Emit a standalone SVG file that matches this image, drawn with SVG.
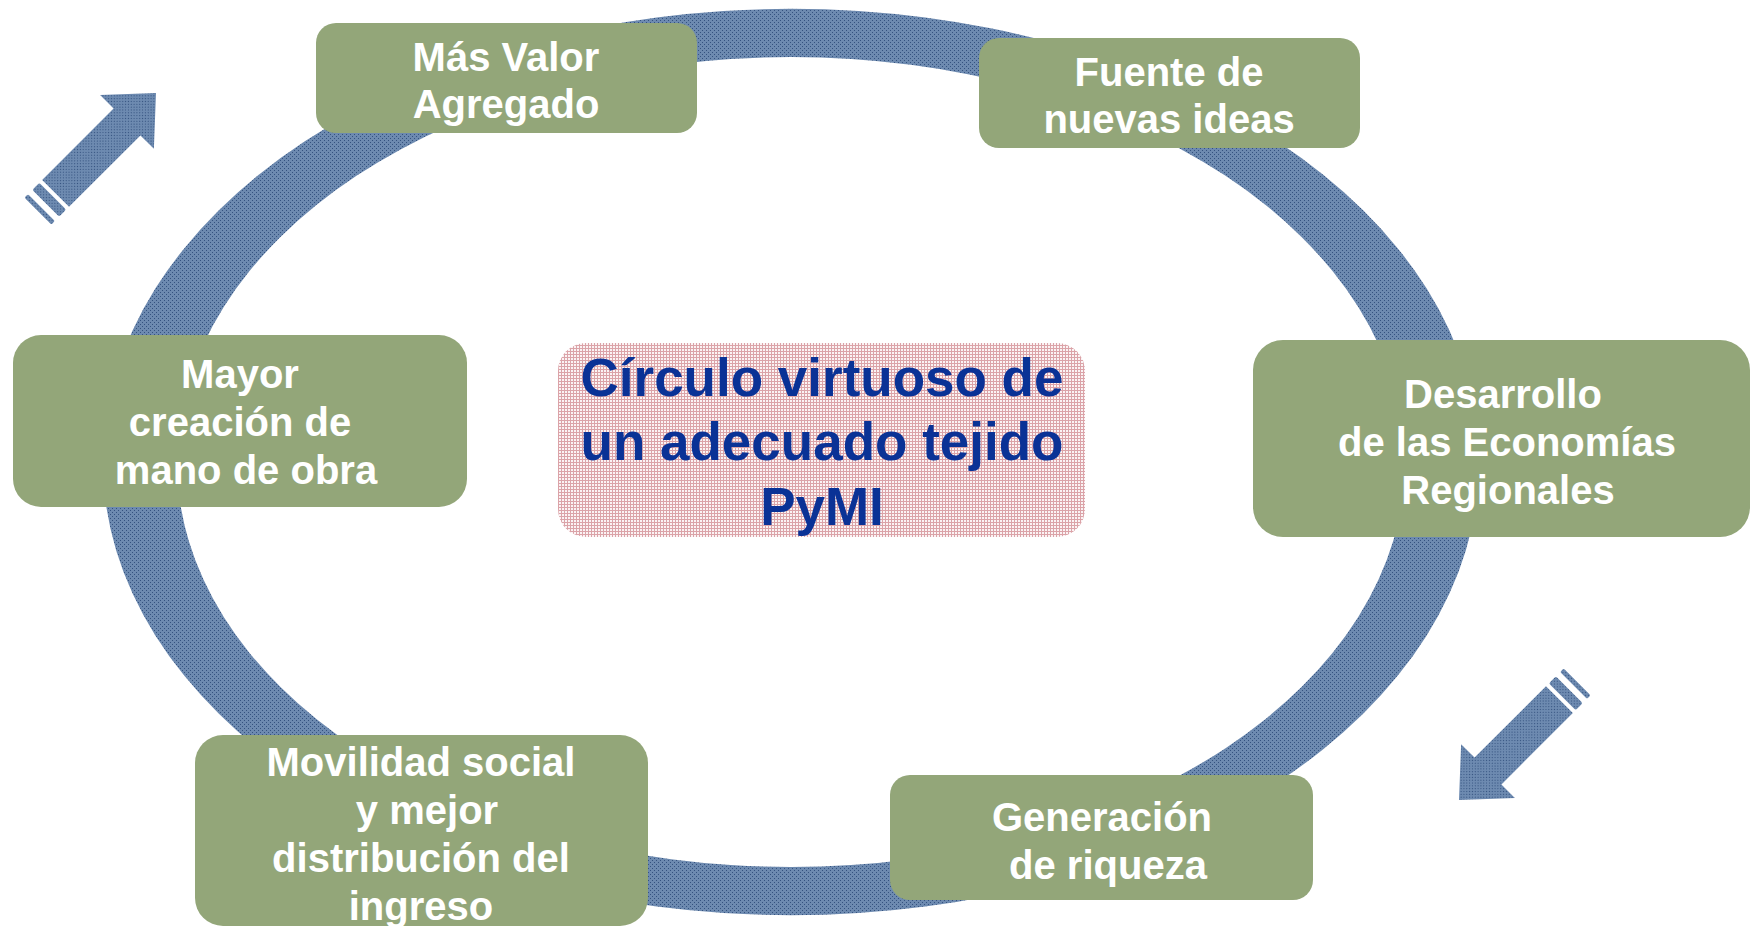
<svg xmlns="http://www.w3.org/2000/svg" width="1751" height="929" viewBox="0 0 1751 929">
<style>
.box{fill:#93a679;}
.lbl{font-family:"Liberation Sans",Arial,sans-serif;font-weight:bold;font-size:40px;fill:#ffffff;text-anchor:middle;}
.ctr{font-family:"Liberation Sans",Arial,sans-serif;font-weight:bold;font-size:53px;fill:#0a3296;text-anchor:middle;}
.blue{fill:url(#blueTex);}
</style>
<defs>
<pattern id="blueTex" width="4" height="4" patternUnits="userSpaceOnUse">
<rect width="4" height="4" fill="#6d8ab0"/>
<rect x="0" y="0" width="1" height="1" fill="#34527f"/>
<rect x="2" y="2" width="1" height="1" fill="#34527f"/>
</pattern>
<pattern id="pinkTex" width="3" height="3" patternUnits="userSpaceOnUse">
<rect width="3" height="3" fill="#fbf3f4"/>
<rect x="0" y="0" width="3" height="1" fill="#dba3a8"/>
<rect x="0" y="0" width="1" height="3" fill="#dba3a8"/>
</pattern>
<g id="arrowShape">
<path d="M0,0 L-41,-38 L-41,-19 L-142,-19 L-142,19 L-41,19 L-41,38 Z"/>
<rect x="-156" y="-19" width="10" height="38" rx="2"/>
<rect x="-167" y="-19" width="5" height="38" rx="1.5"/>
</g>
</defs>
<rect width="1751" height="929" fill="#ffffff"/>
<g id="connectors">
<path class="blue" fill-rule="evenodd" d="M103,462 A688,453 0 1,0 1479,462 A688,453 0 1,0 103,462 Z M177,462 A614,405 0 1,0 1405,462 A614,405 0 1,0 177,462 Z"/>
<use href="#arrowShape" class="blue" transform="translate(156,93) rotate(-45)"/>
<use href="#arrowShape" class="blue" transform="translate(1459,800) rotate(135)"/>
</g>
<g id="node-mas-valor">
<rect class="box" x="316" y="23" width="381" height="110" rx="20"/>
<text class="lbl" x="506" y="71">Más Valor</text>
<text class="lbl" x="506" y="118">Agregado</text>
</g>
<g id="node-fuente">
<rect class="box" x="979" y="38" width="381" height="110" rx="20"/>
<text class="lbl" x="1169" y="86">Fuente de</text>
<text class="lbl" x="1169" y="133">nuevas ideas</text>
</g>
<g id="node-desarrollo">
<rect class="box" x="1253" y="340" width="497" height="197" rx="30"/>
<text class="lbl" x="1503" y="408">Desarrollo</text>
<text class="lbl" x="1507" y="456">de las Economías</text>
<text class="lbl" x="1508" y="504">Regionales</text>
</g>
<g id="node-mayor">
<rect class="box" x="13" y="335" width="454" height="172" rx="28"/>
<text class="lbl" x="240" y="388">Mayor</text>
<text class="lbl" x="240" y="436">creación de</text>
<text class="lbl" x="246" y="484">mano de obra</text>
</g>
<g id="node-movilidad">
<rect class="box" x="195" y="735" width="453" height="191" rx="28"/>
<text class="lbl" x="421" y="776">Movilidad social</text>
<text class="lbl" x="427" y="824">y mejor</text>
<text class="lbl" x="421" y="872">distribución del</text>
<text class="lbl" x="421" y="920">ingreso</text>
</g>
<g id="node-generacion">
<rect class="box" x="890" y="775" width="423" height="125" rx="20"/>
<text class="lbl" x="1102" y="831">Generación</text>
<text class="lbl" x="1108" y="879">de riqueza</text>
</g>
<g id="node-centro">
<rect x="558" y="343" width="527" height="194" rx="28" fill="url(#pinkTex)"/>
<text class="ctr" x="822" y="396">Círculo virtuoso de</text>
<text class="ctr" x="822" y="460">un adecuado tejido</text>
<text class="ctr" x="822" y="525">PyMI</text>
</g>
</svg>
